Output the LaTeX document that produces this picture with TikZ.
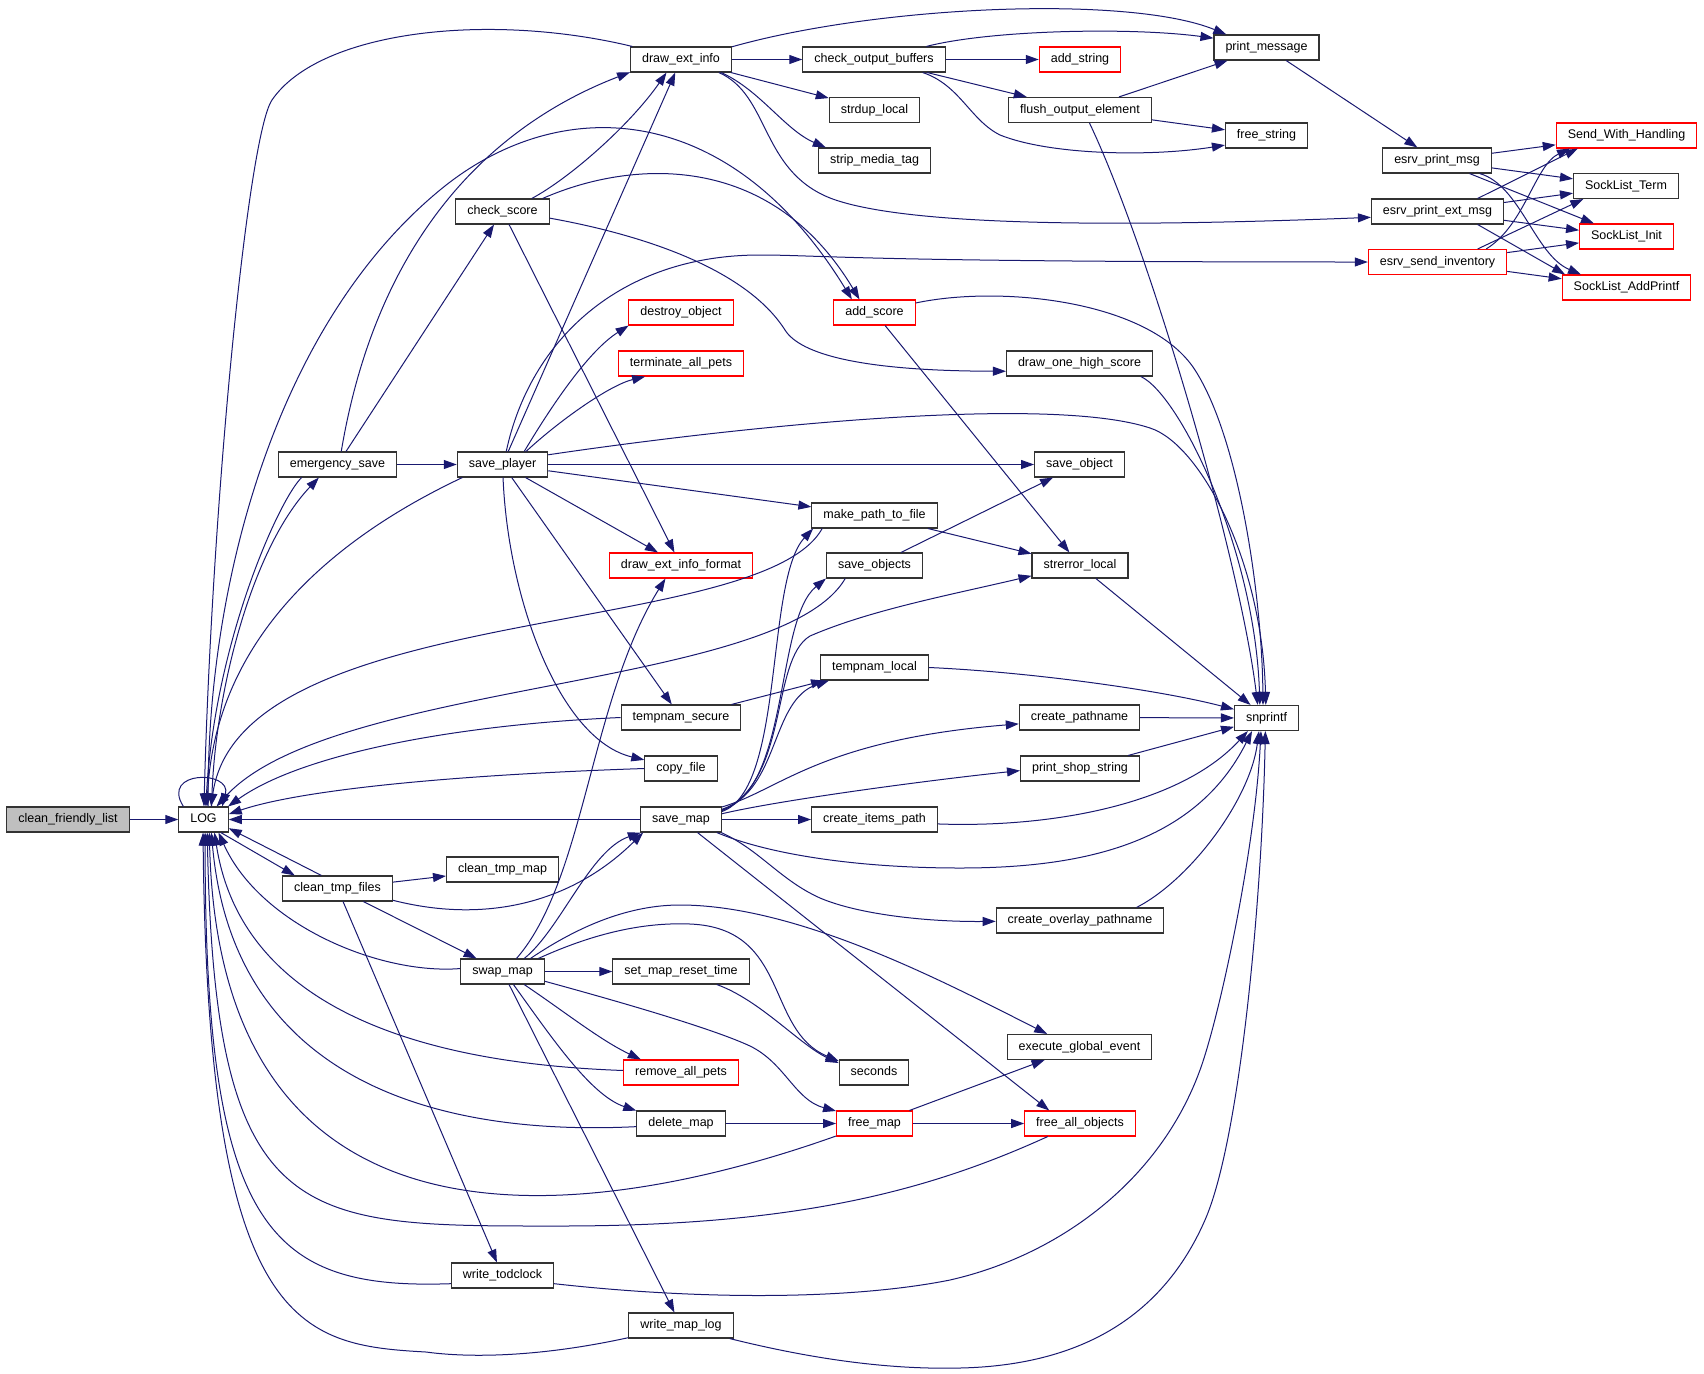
\documentclass[tikz,border=0pt]{standalone}
\usepackage{fontspec}
\setmainfont{Liberation Sans}
\usetikzlibrary{arrows.meta}
\definecolor{midnight}{HTML}{191970}
\definecolor{cflgray}{HTML}{BFBFBF}
\tikzset{
  fn/.style={draw=black!80, line width=1.1pt, fill=white, minimum height=25pt,
    inner xsep=11.5pt, inner ysep=0pt, text height=9pt, text depth=3pt,
    font=\fontsize{12.5}{14}\selectfont},
  fnred/.style={fn, draw=red},
  call/.style={draw=midnight, line width=1pt, -{Triangle[length=13pt,width=9pt]}}
}
\begin{document}
\begin{tikzpicture}[x=1pt,y=1pt]
  \useasboundingbox (0,0) rectangle (1704,-1373);
  \node[fn, fill=cflgray] (cfl) at (68,-819.5) {clean\_friendly\_list};
  \node[fn] (LOG) at (203.5,-819.5) {LOG};
  \node[fn] (esave) at (337.5,-464.5) {emergency\_save};
  \node[fn] (ctf) at (337.5,-888.5) {clean\_tmp\_files};
  \node[fn] (cscore) at (502.5,-211.5) {check\_score};
  \node[fn] (splayer) at (502.5,-464.5) {save\_player};
  \node[fn] (ctmap) at (502.5,-869.5) {clean\_tmp\_map};
  \node[fn] (swap) at (502.5,-971.5) {swap\_map};
  \node[fn] (wtod) at (502.5,-1275.5) {write\_todclock};
  \node[fn] (dei) at (681,-59.5) {draw\_ext\_info};
  \node[fnred] (dobj) at (681,-312.5) {destroy\_object};
  \node[fnred] (tpets) at (681,-363.5) {terminate\_all\_pets};
  \node[fnred] (deif) at (681,-565.5) {draw\_ext\_info\_format};
  \node[fn] (tsec) at (681,-717.5) {tempnam\_secure};
  \node[fn] (cfile) at (681,-768.5) {copy\_file};
  \node[fn] (smap) at (681,-819.5) {save\_map};
  \node[fn] (smrt) at (681,-971.5) {set\_map\_reset\_time};
  \node[fnred] (rpets) at (681,-1072.5) {remove\_all\_pets};
  \node[fn] (dmap) at (681,-1123.5) {delete\_map};
  \node[fn] (wlog) at (681,-1325.5) {write\_map\_log};
  \node[fn] (cob) at (874,-59.5) {check\_output\_buffers};
  \node[fn] (sdup) at (874.5,-110) {strdup\_local};
  \node[fn] (smt) at (874.5,-160.5) {strip\_media\_tag};
  \node[fnred] (ascore) at (874.5,-312.5) {add\_score};
  \node[fn] (mptf) at (874.5,-515.5) {make\_path\_to\_file};
  \node[fn] (sobjs) at (874.5,-565.5) {save\_objects};
  \node[fn] (tloc) at (874.5,-667.5) {tempnam\_local};
  \node[fn] (cip) at (874.5,-819.5) {create\_items\_path};
  \node[fn] (secs) at (874,-1072.5) {seconds};
  \node[fnred] (fmap) at (874.5,-1123.5) {free\_map};
  \node[fnred] (astr) at (1080,-59.5) {add\_string};
  \node[fn] (foe) at (1080,-110) {flush\_output\_element};
  \node[fn] (dohs) at (1079.5,-363.5) {draw\_one\_high\_score};
  \node[fn] (sobj) at (1079.5,-464.5) {save\_object};
  \node[fn] (serr) at (1080,-565.5) {strerror\_local};
  \node[fn] (cpath) at (1079.5,-717.5) {create\_pathname};
  \node[fn] (pss) at (1080,-768.5) {print\_shop\_string};
  \node[fn] (copath) at (1080,-920.5) {create\_overlay\_pathname};
  \node[fn] (ege) at (1079.5,-1047) {execute\_global\_event};
  \node[fnred] (fao) at (1080,-1123.5) {free\_all\_objects};
  \node[fn] (pmsg) at (1266.5,-47.5) {print\_message};
  \node[fn] (fstr) at (1266.5,-135.5) {free\_string};
  \node[fn] (snp) at (1266.5,-718) {snprintf};
  \node[fn] (epm) at (1437,-160.5) {esrv\_print\_msg};
  \node[fn] (epem) at (1437.5,-211.5) {esrv\_print\_ext\_msg};
  \node[fnred] (esi) at (1437.5,-262) {esrv\_send\_inventory};
  \node[fnred] (swh) at (1626.5,-135.5) {Send\_With\_Handling};
  \node[fn] (slt) at (1626,-186) {SockList\_Term};
  \node[fnred] (sli) at (1626.5,-236.5) {SockList\_Init};
  \node[fnred] (sla) at (1626.5,-287.5) {SockList\_AddPrintf};
  % calls into and out of LOG
  \draw[call] (cfl) -- (LOG);
  \draw[call] (LOG.147) .. controls (160,-770) and (232,-770) .. (LOG.35);
  \draw[call] (LOG.58) .. controls (213,-700) and (250,-550) .. (esave.215);
  \draw[call] (esave.200) .. controls (280,-498) and (215,-640) .. (LOG.80);
  \draw[call] (LOG.70) .. controls (205,-600) and (270,-330) .. (440,-190) .. controls (560,-91) and (730,-100) .. (ascore.150);
  \draw[call] (LOG.-37) -- (ctf.163);
  \draw[call] (dei.165) .. controls (490,-12) and (320,-30) .. (272,-100) .. controls (248,-135) and (212,-500) .. (LOG.88);
  \draw[call] (splayer.198) .. controls (330,-540) and (215,-640) .. (LOG.75);
  \draw[call] (mptf.194) .. controls (760,-640) and (240,-600) .. (LOG.60);
  \draw[call] (sobjs.204) .. controls (780,-690) and (330,-680) .. (LOG.45);
  \draw[call] (tsec.west) .. controls (450,-725) and (300,-755) .. (LOG.28);
  \draw[call] (cfile.west) .. controls (450,-775) and (300,-790) .. (LOG.12);
  \draw[call] (smap) -- (LOG);
  \draw[call] (ctf.141) -- (LOG.-19);
  \draw[call] (swap.176) .. controls (380,-975) and (260,-925) .. (LOG.-41);
  \draw[call] (rpets.178) .. controls (470,-1065) and (245,-1030) .. (LOG.-50);
  \draw[call] (dmap.184) .. controls (470,-1135) and (235,-1100) .. (LOG.-59);
  \draw[call] (fmap.198) .. controls (600,-1220) and (220,-1280) .. (LOG.-66);
  \draw[call] (fao.202) .. controls (930,-1190) and (800,-1226) .. (560,-1226) .. controls (300,-1226) and (215,-1230) .. (LOG.-74);
  \draw[call] (wtod.189) .. controls (270,-1290) and (205,-1230) .. (LOG.-83);
  \draw[call] (wlog.193) .. controls (540,-1357) and (470,-1358) .. (426,-1352) .. controls (300,-1345) and (208,-1330) .. (LOG.-92);
  % emergency_save, check_score, save_player
  \draw[call] (esave) -- (splayer);
  \draw[call] (esave) -- (cscore);
  \draw[call] (esave.74) .. controls (375,-250) and (480,-130) .. (dei.194);
  \draw[call] (cscore.24) .. controls (570,-178) and (630,-125) .. (dei.222);
  \draw[call] (cscore.18) .. controls (630,-160) and (770,-150) .. (ascore.139);
  \draw[call] (cscore.-8) .. controls (660,-238) and (750,-275) .. (785,-330) .. controls (800,-354) and (860,-371) .. (dohs.186);
  \draw[call] (cscore) -- (deif);
  \draw[call] (splayer) -- (dei);
  \draw[call] (splayer.31) .. controls (555,-400) and (590,-350) .. (dobj.194);
  \draw[call] (splayer.29) .. controls (560,-420) and (610,-385) .. (tpets.200);
  \draw[call] (splayer.74) .. controls (530,-340) and (620,-255) .. (760,-255) .. controls (820,-255) and (860,-262) .. (esi);
  \draw[call] (splayer.12) .. controls (750,-425) and (1050,-395) .. (1150,-428) .. controls (1200,-444) and (1262,-560) .. (snp.93);
  \draw[call] (splayer) -- (sobj);
  \draw[call] (splayer) -- (mptf);
  \draw[call] (splayer) -- (deif);
  \draw[call] (splayer) -- (tsec);
  \draw[call] (splayer) .. controls (508,-600) and (560,-740) .. (cfile);
  % draw_ext_info and the output side
  \draw[call] (dei) -- (cob);
  \draw[call] (dei) -- (sdup);
  \draw[call] (dei.-18) .. controls (760,-90) and (785,-130) .. (smt.165);
  \draw[call] (dei.14) .. controls (880,-5) and (1130,5) .. (pmsg.162);
  \draw[call] (dei.-19) .. controls (770,-95) and (760,-170) .. (830,-198) .. controls (900,-225) and (1100,-228) .. (epem.185);
  \draw[call] (cob) -- (astr);
  \draw[call] (cob) -- (foe);
  \draw[call] (cob.14) .. controls (990,-30) and (1130,-27) .. (pmsg.170);
  \draw[call] (cob.-15) .. controls (960,-85) and (970,-120) .. (1000,-135) .. controls (1050,-155) and (1150,-157) .. (fstr.193);
  \draw[call] (foe) -- (pmsg);
  \draw[call] (foe) -- (fstr);
  \draw[call] (foe.-54) .. controls (1150,-250) and (1240,-560) .. (snp.124);
  \draw[call] (pmsg) -- (epm);
  \draw[call] (epm) -- (swh);
  \draw[call] (epm) -- (slt);
  \draw[call] (epm) -- (sli);
  \draw[call] (epm.-17) .. controls (1520,-185) and (1535,-255) .. (sla.164);
  \draw[call] (epem.18) -- (swh.195);
  \draw[call] (epem) -- (slt);
  \draw[call] (epem) -- (sli);
  \draw[call] (epem.-18) -- (sla.168);
  \draw[call] (esi.15) .. controls (1525,-225) and (1535,-165) .. (swh.193);
  \draw[call] (esi.18) -- (slt.197);
  \draw[call] (esi) -- (sli);
  \draw[call] (esi) -- (sla);
  % into snprintf
  \draw[call] (ascore) -- (serr);
  \draw[call] (ascore.13) .. controls (1000,-285) and (1150,-300) .. (1195,-370) .. controls (1240,-440) and (1262,-600) .. (snp.105);
  \draw[call] (dohs.-12) .. controls (1180,-395) and (1255,-550) .. (snp.117);
  \draw[call] (mptf) -- (serr);
  \draw[call] (sobjs) -- (sobj);
  \draw[call] (serr) -- (snp);
  \draw[call] (tsec) -- (tloc);
  \draw[call] (tloc.east) .. controls (1030,-672) and (1160,-690) .. (snp.165);
  \draw[call] (cpath) -- (snp);
  \draw[call] (pss) -- (snp);
  \draw[call] (cip.-4) .. controls (1050,-828) and (1180,-805) .. (snp.215);
  \draw[call] (copath.13) .. controls (1190,-880) and (1250,-800) .. (snp.240);
  % save_map
  \draw[call] (smap) -- (cip);
  \draw[call] (smap.11) .. controls (785,-790) and (765,-580) .. (mptf.192);
  \draw[call] (smap.13) .. controls (790,-790) and (775,-620) .. (sobjs.195);
  \draw[call] (smap.12) .. controls (790,-780) and (770,-660) .. (810,-636) .. controls (870,-610) and (950,-595) .. (serr.192);
  \draw[call] (smap.14) .. controls (780,-790) and (770,-700) .. (tloc.196);
  \draw[call] (smap.17) .. controls (780,-790) and (820,-740) .. (cpath.186);
  \draw[call] (smap.8) .. controls (780,-800) and (930,-780) .. (pss.182);
  \draw[call] (smap.-20) .. controls (770,-855) and (860,-868) .. (960,-868) .. controls (1080,-868) and (1195,-845) .. (snp.222);
  \draw[call] (smap.-18) .. controls (760,-850) and (780,-880) .. (820,-898) .. controls (860,-915) and (930,-922) .. (copath);
  \draw[call] (smap) -- (fao.157);
  % clean_tmp_files and swap_map
  \draw[call] (ctf) -- (ctmap);
  \draw[call] (ctf) -- (swap);
  \draw[call] (ctf.-12) .. controls (490,-925) and (575,-900) .. (smap.199);
  \draw[call] (ctf) -- (wtod);
  \draw[call] (swap) -- (smrt);
  \draw[call] (swap.43) .. controls (585,-880) and (590,-700) .. (deif.220);
  \draw[call] (swap.31) .. controls (560,-930) and (590,-850) .. (smap.198);
  \draw[call] (swap.25) .. controls (580,-925) and (630,-905) .. (680,-905) .. controls (800,-905) and (950,-985) .. (ege.158);
  \draw[call] (swap.20) .. controls (590,-935) and (640,-922) .. (690,-924) .. controls (790,-928) and (765,-1030) .. (secs.162);
  \draw[call] (smrt.-20) .. controls (760,-1000) and (800,-1045) .. (secs.165);
  \draw[call] (swap.-31) .. controls (565,-1012) and (600,-1040) .. (rpets.162);
  \draw[call] (swap.-50) .. controls (550,-1035) and (590,-1095) .. (dmap.164);
  \draw[call] (swap) -- (wlog);
  \draw[call] (swap.-13) .. controls (650,-1010) and (720,-1032) .. (750,-1046) .. controls (785,-1063) and (795,-1100) .. (fmap.162);
  \draw[call] (dmap) -- (fmap);
  \draw[call] (fmap) -- (fao);
  \draw[call] (fmap) -- (ege);
  \draw[call] (wtod.-9) .. controls (700,-1300) and (850,-1300) .. (950,-1280) .. controls (1060,-1255) and (1160,-1180) .. (1200,-1070) .. controls (1220,-1015) and (1255,-850) .. (snp.247);
  \draw[call] (wlog.-15) .. controls (800,-1356) and (880,-1370) .. (960,-1368) .. controls (1100,-1365) and (1170,-1300) .. (1205,-1220) .. controls (1240,-1140) and (1262,-900) .. (snp.265);
\end{tikzpicture}
\end{document}
